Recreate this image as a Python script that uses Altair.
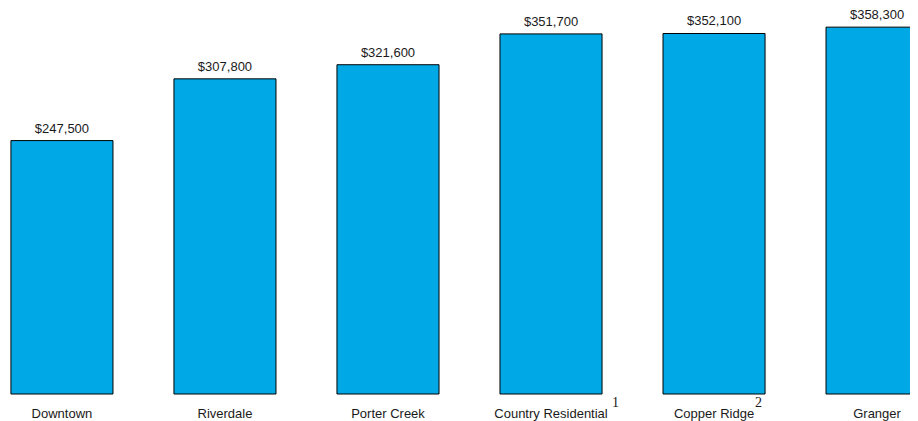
import altair as alt
import pandas as pd

neighbourhoods = ["Downtown", "Riverdale", "Porter Creek", "Country Residential", "Copper Ridge", "Granger"]
prices = [247500, 307800, 321600, 351700, 352100, 358300]
footnotes = ["", "", "", "1", "2", ""]

df = pd.DataFrame({"area": neighbourhoods, "price": prices, "note": footnotes})
df["label"] = df["price"].map(lambda v: "${:,.0f}".format(v))

x = alt.X("area:N", sort=neighbourhoods,
          scale=alt.Scale(paddingInner=0.374, paddingOuter=0.018, range=[0, 923]),
          axis=alt.Axis(title=None, domain=False, ticks=False, labelAngle=0,
                        labelFont="Liberation Sans", labelFontSize=13,
                        labelColor="#1a1a1a", labelPadding=13))
y = alt.Y("price:Q", scale=alt.Scale(domain=[0, 377000], nice=False, zero=True), axis=None)

base = alt.Chart(df)

bars = base.mark_bar(color="#00A9E6", stroke="#000000", strokeWidth=1).encode(x=x, y=y)

labels = base.mark_text(baseline="alphabetic", dy=-8, font="Liberation Sans",
                        fontSize=13, color="#1a1a1a").encode(
    x=alt.X("area:N", sort=neighbourhoods), y="price:Q", text="label:N")

sup1 = base.transform_filter(alt.datum.note == "1").mark_text(
    baseline="middle", align="left", dx=61, dy=9, font="Liberation Serif",
    fontSize=14, color="#1a1a1a").encode(
    x=alt.X("area:N", sort=neighbourhoods), y=alt.datum(0), text="note:N")

sup2 = base.transform_filter(alt.datum.note == "2").mark_text(
    baseline="middle", align="left", dx=41, dy=9, font="Liberation Serif",
    fontSize=14, color="#1a1a1a").encode(
    x=alt.X("area:N", sort=neighbourhoods), y=alt.datum(0), text="note:N")

chart = alt.layer(bars, labels, sup1, sup2).properties(
    width=902, height=386,
    autosize=alt.AutoSizeParams(type="none"),
    padding={"left": 0, "top": 0, "right": 0, "bottom": 27},
).configure_view(stroke=None)

chart.save("out.html", embed_options={"renderer": "svg", "actions": False})
